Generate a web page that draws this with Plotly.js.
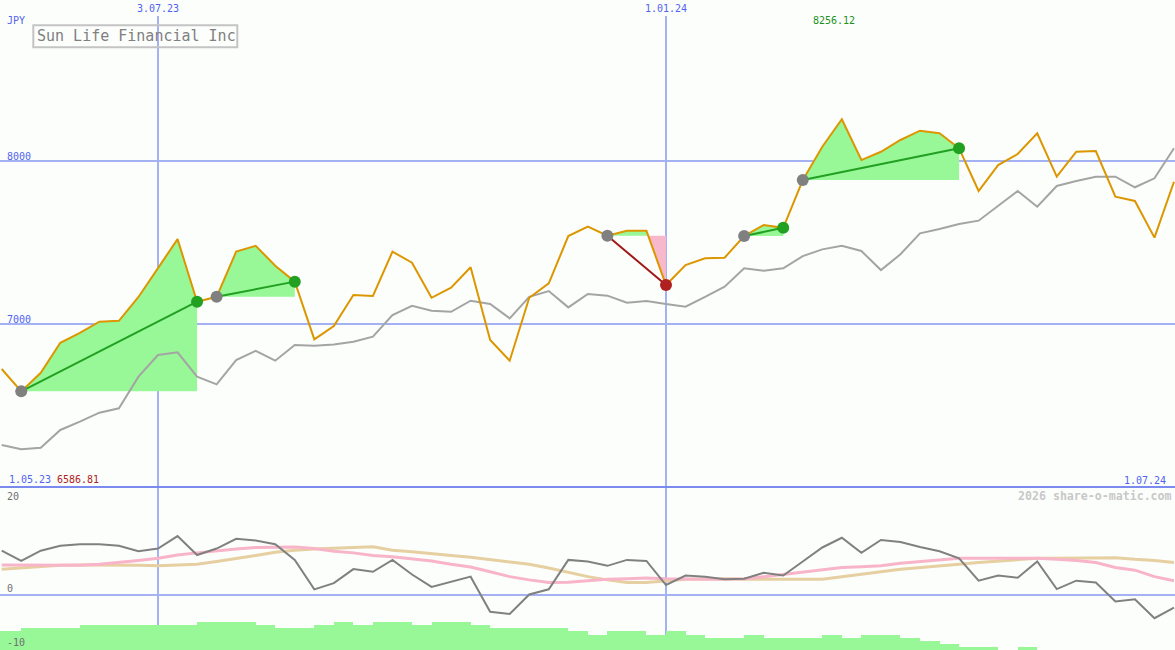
<!DOCTYPE html>
<html><head><meta charset="utf-8">
<script src="https://cdn.plot.ly/plotly-3.0.1.min.js"></script>
<style>html,body{margin:0;padding:0;background:#fcfefc;}#chart{width:1175px;height:650px;}</style>
</head><body><div id="chart"></div>
<script>
// ---------- data ----------
const dates = ['2023-05-08','2023-05-15','2023-05-22','2023-05-29','2023-06-05','2023-06-12','2023-06-19','2023-06-26',
'2023-07-03','2023-07-10','2023-07-17','2023-07-24','2023-07-31','2023-08-07','2023-08-14','2023-08-21','2023-08-28',
'2023-09-04','2023-09-11','2023-09-18','2023-09-25','2023-10-02','2023-10-09','2023-10-16','2023-10-23','2023-10-30',
'2023-11-06','2023-11-13','2023-11-20','2023-11-27','2023-12-04','2023-12-11','2023-12-18','2023-12-25',
'2024-01-01','2024-01-08','2024-01-15','2024-01-22','2024-01-29','2024-02-05','2024-02-12','2024-02-19','2024-02-26',
'2024-03-04','2024-03-11','2024-03-18','2024-03-25','2024-04-01','2024-04-08','2024-04-15','2024-04-22','2024-04-29',
'2024-05-06','2024-05-13','2024-05-20','2024-05-27','2024-06-03','2024-06-10','2024-06-17','2024-06-24','2024-07-01'];

const price = [6724,6586.81,6701,6885,6946,7014,7020,7166,7343,7521,7137,7167,7444,7480,7358,7260,6906,6988,7178,7172,
7444,7376,7161,7223,7348,6902,6775,7161,7249,7540,7597,7542,7572,7572,7239,7362,7403,7407,7540,7607,
7590,7883,8088,8256.12,8006,8057,8129,8186,8170,8078,7816,7975,8043,8170,7904,8057,8061,7781,7755,7530,7873];

const average = [6258,6231,6241,6350,6401,6456,6483,6677,6810,6826,6677,6630,6779,6836,6775,6871,6867,6875,6891,6922,
7055,7112,7082,7075,7143,7123,7035,7167,7202,7102,7184,7174,7131,7141,7123,7106,7167,7229,7342,7327,
7342,7417,7458,7480,7448,7331,7428,7556,7583,7613,7634,7726,7816,7720,7847,7877,7904,7904,7839,7894,8078];

const oscillator = [8.2,6.3,8.2,9.1,9.4,9.4,9.1,8.1,8.6,10.9,7.4,8.6,10.4,10.1,9.4,6.5,1.05,2.2,4.8,4.3,
6.5,3.8,1.5,2.5,3.4,-3.1,-3.5,0.1,1.05,6.5,6.2,5.4,6.5,6.3,1.85,3.6,3.4,2.9,3.0,4.1,
3.6,6.2,8.8,10.6,7.8,10.2,9.8,8.9,8.1,6.8,2.65,3.6,3.2,6.2,1.1,2.65,2.3,-1.2,-0.8,-4.3,-2.35];

const oscPink = [5.56,5.56,5.56,5.56,5.5,5.7,6.0,6.4,6.8,7.4,7.8,8.2,8.5,8.8,8.9,8.9,8.6,8.1,7.8,7.3,
7.1,6.7,6.3,5.7,5.2,4.3,3.4,2.8,2.3,2.35,2.6,2.9,3.0,3.15,3.0,2.9,2.9,2.9,3.0,3.4,
3.85,4.3,4.75,5.1,5.25,5.4,5.9,6.2,6.6,6.8,6.8,6.8,6.8,6.8,6.6,6.4,6.0,5.1,4.6,3.4,2.65];

const oscTan = [4.75,5.0,5.25,5.5,5.56,5.56,5.56,5.5,5.4,5.56,5.7,6.2,6.7,7.3,7.9,8.3,8.5,8.6,8.8,8.95,
8.3,8.0,7.6,7.3,7.0,6.6,6.2,5.7,5.0,4.25,3.4,2.8,2.3,2.3,2.6,2.9,2.95,3.0,2.9,2.9,
2.9,2.9,2.9,3.4,3.8,4.3,4.75,5.1,5.4,5.7,6.0,6.3,6.6,6.8,6.8,6.8,6.8,6.9,6.6,6.4,6.0];

const volumeDates = ['2023-05-01'].concat(dates.slice(0, 60));
const volume = [11.7,11.7,13.7,13.7,13.7,15.3,15.3,15.3,15.3,15.3,15.3,17.4,17.4,17.4,15.3,13.7,13.7,15.3,17.4,15.3,
17.4,17.4,15.3,17.4,17.4,15.3,13.7,13.7,13.7,13.7,11.7,9.2,11.7,11.7,9.2,11.7,9.2,7.4,7.4,9.2,
7.4,7.4,7.4,9.2,7.4,9.2,9.2,7.4,5.5,3.7,1.7,1.7,0,1.7,0,0,0,0,0,0,0];

// trend segments: [start index, end index]
const trends = [[1,10],[11,15],[31,34],[38,40],[41,49]];

const gridDates = ['2023-07-03','2024-01-01'];
const gridDateLabels = ['3.07.23','1.01.24'];
const priceGrid = [7000, 8000];
const oscTicks = [20, 0, -10];
const startLabel = '1.05.23';
const endLabel = '1.07.24';
const currency = 'JPY';
const titleText = 'Sun Life Financial Inc';
const watermark = '2026 share-o-matic.com';

// ---------- helpers ----------
const W = 1175, H = 650;
const DAY = 86400000;
const ms = s => { const p = s.split('-').map(Number); return Date.UTC(p[0], p[1]-1, p[2]); };
const iso = t => new Date(t).toISOString().replace('T',' ').replace('Z','');
const px = x => x / W;
const py = y => 1 - y / H;
const splitY = 163 / H;
const xStart = iso(ms('2023-05-01') + 6.39 * DAY);
const xEnd = iso(ms('2023-05-01') + 427.36 * DAY);

const BLUE = '#5064f0', GRID = '#a4b2f4', SEP = '#7a8aee';
const FONT = 'DejaVu Sans Mono, Liberation Mono, monospace';

const traces = [];

// trend fills
trends.forEach(([s, e]) => {
  const base = price[s];
  const pts = [];
  for (let i = s; i <= e; i++) {
    pts.push([ms(dates[i]), price[i]]);
    if (i < e) {
      const a = price[i] - base, b = price[i+1] - base;
      if ((a > 0 && b < 0) || (a < 0 && b > 0)) {
        const t = a / (a - b);
        const x0 = ms(dates[i]), x1 = ms(dates[i+1]);
        pts.push([x0 + t * (x1 - x0), base]);
      }
    }
  }
  const xs0 = ms(dates[s]), xe0 = ms(dates[e]);
  [['#98f898', Math.max, v => v > base], ['#f8b8cc', Math.min, v => v < base]].forEach(([col, fn, test]) => {
    if (!pts.some(p => test(p[1]))) return;
    const X = pts.map(p => iso(p[0])).concat([iso(xe0), iso(xs0)]);
    const Y = pts.map(p => fn(p[1], base)).concat([base, base]);
    traces.push({x: X, y: Y, xaxis: 'x', yaxis: 'y', mode: 'lines', fill: 'toself', fillcolor: col,
      line: {width: 0, color: 'rgba(0,0,0,0)'}, hoverinfo: 'skip'});
  });
});

// average line
traces.push({x: dates, y: average, xaxis: 'x', yaxis: 'y', mode: 'lines', line: {color: '#a4a4a4', width: 2}, hoverinfo: 'skip'});
// price line
traces.push({x: dates, y: price, xaxis: 'x', yaxis: 'y', mode: 'lines', line: {color: '#dc9600', width: 2}, hoverinfo: 'skip'});

// trend lines and markers
const startX = [], startY = [], upX = [], upY = [], downX = [], downY = [];
trends.forEach(([s, e]) => {
  const up = price[e] >= price[s];
  traces.push({x: [dates[s], dates[e]], y: [price[s], price[e]], xaxis: 'x', yaxis: 'y', mode: 'lines',
    line: {color: up ? '#22a022' : '#a01818', width: 2}, hoverinfo: 'skip'});
  startX.push(dates[s]); startY.push(price[s]);
  if (up) { upX.push(dates[e]); upY.push(price[e]); } else { downX.push(dates[e]); downY.push(price[e]); }
});
traces.push({x: startX, y: startY, xaxis: 'x', yaxis: 'y', mode: 'markers', marker: {color: '#808080', size: 12, line: {width: 0}}, hoverinfo: 'skip'});
traces.push({x: upX, y: upY, xaxis: 'x', yaxis: 'y', mode: 'markers', marker: {color: '#22a022', size: 12, line: {width: 0}}, hoverinfo: 'skip'});
traces.push({x: downX, y: downY, xaxis: 'x', yaxis: 'y', mode: 'markers', marker: {color: '#b02020', size: 12, line: {width: 0}}, hoverinfo: 'skip'});

// lower panel
traces.push({x: dates, y: oscTan, xaxis: 'x', yaxis: 'y2', mode: 'lines', line: {color: '#e6cfa0', width: 3}, hoverinfo: 'skip'});
traces.push({x: dates, y: oscPink, xaxis: 'x', yaxis: 'y2', mode: 'lines', line: {color: '#f8b4c8', width: 3}, hoverinfo: 'skip'});
traces.push({x: dates, y: oscillator, xaxis: 'x', yaxis: 'y2', mode: 'lines', line: {color: '#808080', width: 2}, hoverinfo: 'skip'});
traces.push({type: 'bar', x: volumeDates, y: volume, xaxis: 'x', yaxis: 'y3', width: 7 * DAY, offset: 0,
  marker: {color: '#98f898', line: {width: 0}}, hoverinfo: 'skip'});

// ---------- shapes ----------
const shapes = [];
priceGrid.forEach(v => shapes.push({type: 'line', xref: 'paper', x0: 0, x1: 1, yref: 'y', y0: v, y1: v,
  line: {color: GRID, width: 2}, layer: 'below'}));
shapes.push({type: 'line', xref: 'paper', x0: 0, x1: 1, yref: 'y2', y0: 0, y1: 0, line: {color: GRID, width: 2}, layer: 'below'});
gridDates.forEach(d => shapes.push({type: 'line', xref: 'x', x0: d, x1: d, yref: 'paper', y0: 0, y1: py(16),
  line: {color: GRID, width: 2}, layer: 'below'}));
shapes.push({type: 'line', xref: 'paper', x0: 0, x1: 1, yref: 'paper', y0: splitY, y1: splitY, line: {color: SEP, width: 2}, layer: 'below'});
shapes.push({type: 'rect', xref: 'paper', yref: 'paper', x0: px(33.3), x1: px(237.3), y0: py(25.3), y1: py(47.3),
  line: {color: '#c4c4c4', width: 2}, fillcolor: 'rgba(0,0,0,0)', layer: 'above'});

// ---------- annotations ----------
const ann = (text, o) => Object.assign({text: text, showarrow: false, xref: 'paper', yref: 'paper',
  xanchor: 'left', yanchor: 'middle', font: {family: FONT, size: 10, color: BLUE}}, o);
const annotations = [];
annotations.push(ann(currency, {x: px(5), y: py(21)}));
gridDates.forEach((d, i) => annotations.push(ann(gridDateLabels[i], {xref: 'x', x: d, xanchor: 'center', y: py(8.5)})));
priceGrid.forEach(v => annotations.push(ann(String(v), {x: px(5), yref: 'y', y: v, yshift: 5})));
let iMax = 0, iMin = 0;
price.forEach((v, i) => { if (v > price[iMax]) iMax = i; if (v < price[iMin]) iMin = i; });
annotations.push(ann(price[iMax].toFixed(2), {xref: 'x', x: dates[iMax], xanchor: 'center', xshift: -8, y: py(21),
  font: {family: FONT, size: 10, color: '#209020'}}));
annotations.push(ann(startLabel, {x: px(6.5), y: py(479)}));
annotations.push(ann(price[iMin].toFixed(2), {x: px(55), y: py(479), font: {family: FONT, size: 10, color: '#b02020'}}));
annotations.push(ann(endLabel, {x: px(1168), xanchor: 'right', y: py(480)}));
const oscShift = {20: -9, 0: 7, '-10': 7};
oscTicks.forEach(v => annotations.push(ann(String(v), {x: px(5), yref: 'y2', y: v, yshift: oscShift[v],
  font: {family: FONT, size: 10, color: '#707070'}})));
annotations.push(ann('<b>' + watermark + '</b>', {x: px(1173.5), xanchor: 'right', y: py(496),
  font: {family: FONT, size: 11.6, color: '#c8c8c8'}}));
annotations.push(ann(titleText, {x: px(136.5), xanchor: 'center', y: py(36),
  font: {family: FONT, size: 15, color: '#808080'}}));

const axisOff = {showgrid: false, zeroline: false, showticklabels: false, showline: false, ticks: '', fixedrange: true};
const layout = {
  width: W, height: H, margin: {l: 0, r: 0, t: 0, b: 0, pad: 0},
  paper_bgcolor: '#fcfefc', plot_bgcolor: '#fcfefc', showlegend: false, hovermode: false,
  bargap: 0,
  xaxis: Object.assign({type: 'date', range: [xStart, xEnd], domain: [0, 1]}, axisOff),
  yaxis: Object.assign({domain: [splitY, 1], range: [6000, 8988], anchor: 'x'}, axisOff),
  yaxis2: Object.assign({domain: [0, splitY], range: [-10.185, 20], anchor: 'x'}, axisOff),
  yaxis3: Object.assign({range: [0, 100], overlaying: 'y2', anchor: 'x'}, axisOff),
  shapes: shapes, annotations: annotations
};
Plotly.newPlot('chart', traces, layout, {staticPlot: true, displayModeBar: false});
</script></body></html>
